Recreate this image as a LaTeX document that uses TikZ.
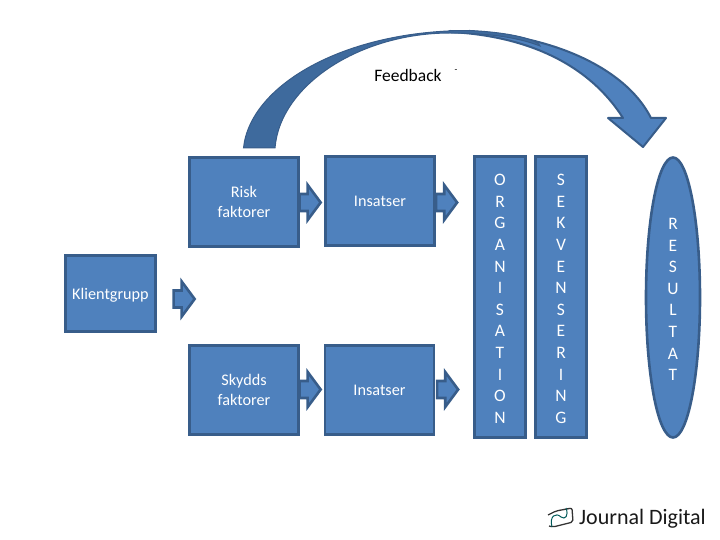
\documentclass[tikz,border=0pt]{standalone}
\usepackage{fontspec}
\setmainfont{Carlito}
\usetikzlibrary{shapes.arrows, shapes.geometric}
\definecolor{boxfill}{HTML}{4F81BD}
\definecolor{boxline}{HTML}{385D8A}
\definecolor{bowdark}{HTML}{3E6A9D}
\newcommand{\ned}{\rule{0pt}{15pt}}

\begin{document}
\begin{tikzpicture}[x=1pt, y=-1pt,
    font=\fontsize{16.2}{21.6}\selectfont, align=center,
    box/.style={draw=boxline, fill=boxfill, line width=2.6pt, text=white, inner sep=0pt},
    tall/.style={box, font=\fontsize{17.5}{21.6}\selectfont, minimum width=51pt, minimum height=281pt},
    pil/.style={single arrow, draw=boxline, fill=boxfill, line width=2.6pt, inner xsep=0pt, inner ysep=7.2pt,
        minimum height=21pt, minimum width=32.4pt, single arrow head extend=9pt,
        single arrow tip angle=107, shape border rotate=0},
    twolines/.style={font=\fontsize{16.2}{19.6}\selectfont}
]
    \useasboundingbox (0,0) rectangle (720,540);

    % feedback bow
    \draw[fill=boxfill, draw=boxline, line width=2pt, line join=round]
        (450,31) .. controls (545,31) and (625,66) .. (651,118) -- (666,118) -- (643,147)
        -- (608,118) -- (623,118) .. controls (590,66) and (530,36) .. (450,32) -- cycle;
    \fill[bowdark, draw=boxline, line width=1pt]
        (243.5,148) .. controls (250,85) and (345,30) .. (470,30.5)
        .. controls (520,33) and (540,42) .. (540,46) .. controls (520,38) and (490,33) .. (450,33)
        .. controls (360,33) and (280,85) .. (275,148) -- cycle;
    \node[font=\fontsize{17.5}{21}\selectfont] (feedback) at (408,75) {Feedback};
    \node[font=\fontsize{9}{9}\selectfont] (streck) at (456,71) {-};

    % left part
    \node[box, minimum width=90pt, minimum height=76pt] (klient) at (110.5,293.5) {\ned Klientgrupp};
    \node[pil] (pilklient) at (181,299) {};
    \node[box, twolines, minimum width=109pt, minimum height=89pt] (risk) at (244,202) {Risk\\faktorer};
    \node[box, minimum width=109pt, minimum height=89pt] (insats1) at (380,201) {Insatser};
    \node[box, twolines, minimum width=109pt, minimum height=89pt] (skydd) at (244,390) {Skydds\\faktorer};
    \node[box, minimum width=109pt, minimum height=89pt] (insats2) at (379.5,390) {Insatser};
    \node[pil] (pil1) at (307,202.5) {};
    \node[pil] (pil2) at (443.5,202.5) {};
    \node[pil] (pil3) at (307,389.5) {};
    \node[pil] (pil4) at (444.5,389.5) {};

    % columns
    \node[tall] (org) at (500,297) {\ned O\\R\\G\\A\\N\\I\\S\\A\\T\\I\\O\\N};
    \node[tall] (sek) at (561,297) {\ned S\\E\\K\\V\\E\\N\\S\\E\\R\\I\\N\\G};
    \node[ellipse, box, font=\fontsize{17.5}{21.6}\selectfont, minimum width=54pt, minimum height=280pt] (resultat) at (673,297.5) {\ned R\\E\\S\\U\\L\\T\\A\\T};

    % logo
    \draw[line width=1.3pt, draw=black!80, rounded corners=2pt]
        (548,515) -- (556,511) -- (572,508) -- (573,522) -- (553,527) -- (549,526);
    \draw[line width=1pt, draw=teal!70!black] (552,527) .. controls (549,516) and (556,512) .. (561,517)
        .. controls (565,520) and (569,516) .. (566,508);
    \node[font=\fontsize{22}{22}\selectfont, text=black!90, inner sep=0pt] (logo) at (642.5,519) {Journal Digital};
\end{tikzpicture}
\end{document}
